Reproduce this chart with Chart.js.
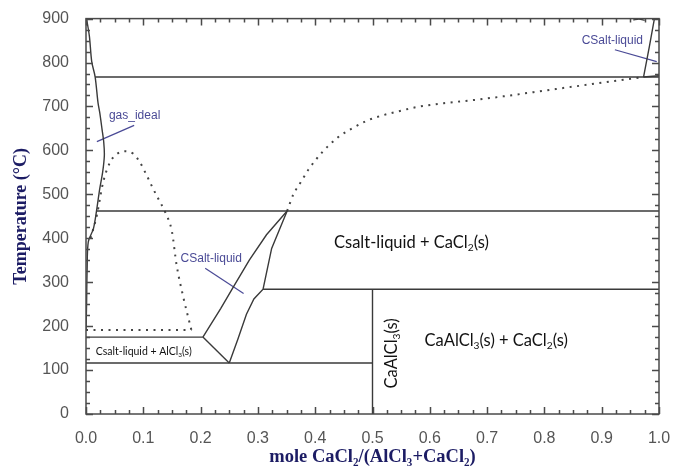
<!DOCTYPE html>
<html>
<head>
<meta charset="utf-8">
<script src="https://cdn.jsdelivr.net/npm/chart.js@4.4.0/dist/chart.umd.min.js"></script>
<style>
  html, body { margin: 0; padding: 0; background: #fff; }
</style>
</head>
<body>
<canvas id="chart" width="683" height="470"></canvas>
<script>
// points are [mole CaCl2/(AlCl3+CaCl2), temperature in C]
var gasIdeal = [[0.001, 900], [0.006, 859], [0.010, 802], [0.016, 767], [0.021, 708], [0.024, 686],
    [0.028, 648], [0.031, 618], [0.032, 588], [0.029, 550], [0.024, 513], [0.019, 468],
    [0.013, 422], [0.004, 392], [0.002, 330], [0.001, 250], [0.0, 190]];
var iso767 = [[0.016, 767], [1.0, 767]];
var iso462 = [[0.019, 462], [1.0, 462]];
var iso284 = [[0.309, 284], [1.0, 284]];
var iso175 = [[0.0, 175], [0.204, 175]];
var iso116 = [[0.0, 116], [0.5, 116]];
var compound50 = [[0.5, 0], [0.5, 284]];
var liquidusLeft = [[0.204, 175], [0.235, 240], [0.257, 289], [0.285, 350], [0.315, 408], [0.351, 462]];
var liquidusRight = [[0.250, 116], [0.265, 170], [0.280, 227], [0.293, 262], [0.309, 284], [0.324, 377], [0.351, 462]];
var tieLow = [[0.204, 175], [0.250, 116]];
var liquidusTop = [[0.973, 767], [0.983, 835], [0.992, 900]];
var tieTop = [[0.973, 767], [1.0, 770]];
var curlTop = [[0.955, 897], [0.965, 899], [0.975, 896]];

var domeDotted = [[0.008, 400], [0.019, 453], [0.030, 528], [0.042, 573], [0.054, 592], [0.068, 598],
    [0.083, 592], [0.094, 573], [0.106, 543], [0.117, 513], [0.129, 483], [0.138, 460],
    [0.150, 415], [0.158, 340], [0.170, 265], [0.184, 191]];
var iso190Dotted = [[0.0, 191], [0.184, 191]];
var rightDotted = [[0.351, 462], [0.362, 500], [0.376, 530], [0.388, 556], [0.400, 577], [0.413, 597],
    [0.425, 613], [0.439, 629], [0.464, 650], [0.491, 668], [0.513, 678], [0.539, 687],
    [0.579, 699], [0.628, 708], [0.679, 715], [0.728, 723], [0.778, 732], [0.827, 741],
    [0.878, 750], [0.927, 759], [0.973, 767]];

var leaderGas = [[0.084, 657], [0.019, 620]];
var leaderMid = [[0.208, 332], [0.275, 274]];
var leaderTop = [[0.923, 829], [0.996, 802]];

// {n} marks a subscript
var labelTexts = ['gas_ideal', 'CSalt-liquid', 'CSalt-liquid', 'Csalt-liquid + CaCl{2}(s)',
    'CaAlCl{3}(s) + CaCl{2}(s)', 'CaAlCl{3}(s)', 'Csalt-liquid + AlCl{3}(s)'];

var phaseColor = '#3a3a3a';
var noteBlue = '#4a4a96';
var sansFont = '"Liberation Sans", Arial, sans-serif';
var bodyFont = 'Lato, "Open Sans", sans-serif';
var serifFont = '"Liberation Serif", "Times New Roman", serif';

function pts(arr) {
    return arr.map(function (p) { return {x: p[0], y: p[1]}; });
}

function solid(arr, smooth) {
    return {data: pts(arr), showLine: true, pointRadius: 0, borderColor: phaseColor,
        borderWidth: 1.4, tension: smooth ? 0.3 : 0};
}

function dotted(arr) {
    return {data: pts(arr), showLine: true, pointRadius: 0, borderColor: '#444',
        borderWidth: 2, borderDash: [2, 5.5], cubicInterpolationMode: 'monotone'};
}

function leader(arr) {
    return {data: pts(arr), showLine: true, pointRadius: 0, borderColor: noteBlue, borderWidth: 1.2};
}

// where each label sits, in data units, and how it is drawn
var labelLayout = [
    {x: 0.040, y: 679, size: 12, font: sansFont, color: noteBlue, align: 'left'},
    {x: 0.165, y: 354, size: 12, font: sansFont, color: noteBlue, align: 'left'},
    {x: 0.865, y: 850, size: 12, font: sansFont, color: noteBlue, align: 'left'},
    {x: 0.568, y: 389, size: 16.5, font: bodyFont, color: '#111', align: 'center'},
    {x: 0.716, y: 167, size: 16.5, font: bodyFont, color: '#111', align: 'center'},
    {x: 0.534, y: 138, size: 16.5, font: bodyFont, color: '#111', align: 'center', rotate: true},
    {x: 0.1007, y: 142, size: 10.5, font: bodyFont, color: '#111', align: 'center'}
];

function splitRich(text) {
    var parts = [];
    text.split(/(\{[^}]*\})/).forEach(function (s) {
        if (!s) return;
        if (s.charAt(0) === '{') parts.push({t: s.slice(1, -1), sub: true});
        else parts.push({t: s, sub: false});
    });
    return parts;
}

function drawRich(ctx, text, x, y, opt) {
    var parts = splitRich(text);
    var total = 0;
    parts.forEach(function (p) {
        ctx.font = (p.sub ? opt.size * 0.62 : opt.size) + 'px ' + opt.font;
        p.w = ctx.measureText(p.t).width;
        total += p.w;
    });
    var cx = opt.align === 'center' ? x - total / 2 : x;
    ctx.fillStyle = opt.color;
    ctx.textBaseline = 'middle';
    ctx.textAlign = 'left';
    parts.forEach(function (p) {
        ctx.font = (p.sub ? opt.size * 0.62 : opt.size) + 'px ' + opt.font;
        ctx.fillText(p.t, cx, p.sub ? y + opt.size * 0.3 : y);
        cx += p.w;
    });
}

var frameAndNotes = {
    id: 'frameAndNotes',
    afterDatasetsDraw: function (chart) {
        var ctx = chart.ctx, a = chart.chartArea;
        var xs = chart.scales.x, ys = chart.scales.y;
        ctx.save();
        ctx.strokeStyle = '#4a4a4a';
        ctx.lineWidth = 1.5;
        ctx.strokeRect(a.left, a.top, a.right - a.left, a.bottom - a.top);
        ctx.lineWidth = 1.5;
        ctx.beginPath();
        var i, p, len;
        for (i = 0; i <= 40; i++) {
            p = Math.round(xs.getPixelForValue(i * 0.025)) + 0.5;
            len = i % 4 === 0 ? 7 : 4;
            ctx.moveTo(p, a.bottom); ctx.lineTo(p, a.bottom - len);
            ctx.moveTo(p, a.top); ctx.lineTo(p, a.top + len);
        }
        for (i = 0; i <= 36; i++) {
            p = Math.round(ys.getPixelForValue(i * 25)) + 0.5;
            len = i % 4 === 0 ? 7 : 4;
            ctx.moveTo(a.left, p); ctx.lineTo(a.left + len, p);
            ctx.moveTo(a.right, p); ctx.lineTo(a.right - len, p);
        }
        ctx.stroke();

        labelLayout.forEach(function (opt, k) {
            var px = xs.getPixelForValue(opt.x), py = ys.getPixelForValue(opt.y);
            if (opt.rotate) {
                ctx.save();
                ctx.translate(px, py);
                ctx.rotate(-Math.PI / 2);
                drawRich(ctx, labelTexts[k], 0, 0, opt);
                ctx.restore();
            } else {
                drawRich(ctx, labelTexts[k], px, py, opt);
            }
        });
        ctx.restore();
    }
};

new Chart(document.getElementById('chart'), {
    type: 'scatter',
    data: {
        datasets: [
            solid(gasIdeal, true), solid(iso767), solid(iso462), solid(iso284), solid(iso175),
            solid(iso116), solid(compound50), solid(liquidusLeft), solid(liquidusRight), solid(tieLow),
            solid(liquidusTop), solid(tieTop), solid(curlTop, true),
            dotted(domeDotted), dotted(iso190Dotted), dotted(rightDotted),
            leader(leaderGas), leader(leaderMid), leader(leaderTop)
        ]
    },
    options: {
        responsive: false,
        animation: false,
        layout: {padding: {top: 14, right: 24, left: 0, bottom: 0}},
        plugins: {legend: {display: false}, tooltip: {enabled: false}},
        scales: {
            x: {
                type: 'linear', min: 0, max: 1,
                grid: {display: false}, border: {display: false},
                ticks: {
                    stepSize: 0.1, padding: 7, color: '#555', maxRotation: 0, autoSkip: false,
                    font: {family: sansFont, size: 16},
                    callback: function (v) { return v.toFixed(1); }
                },
                title: {
                    display: true, text: 'mole CaCl\u2082/(AlCl\u2083+CaCl\u2082)', color: '#1c1c64',
                    font: {family: serifFont, size: 18.5, weight: 'bold'}, padding: {top: 0, bottom: 2}
                },
                afterFit: function (s) { s.height = 56; }
            },
            y: {
                type: 'linear', min: 0, max: 900,
                grid: {display: false}, border: {display: false},
                ticks: {stepSize: 100, padding: 9, color: '#555', font: {family: sansFont, size: 16}},
                title: {
                    display: true, text: 'Temperature (\u00b0C)', color: '#1c1c64',
                    font: {family: serifFont, size: 18, weight: 'bold'}, padding: {top: 11, bottom: 0}
                },
                afterFit: function (s) { s.width = 86; }
            }
        }
    },
    plugins: [frameAndNotes]
});
</script>
</body>
</html>
